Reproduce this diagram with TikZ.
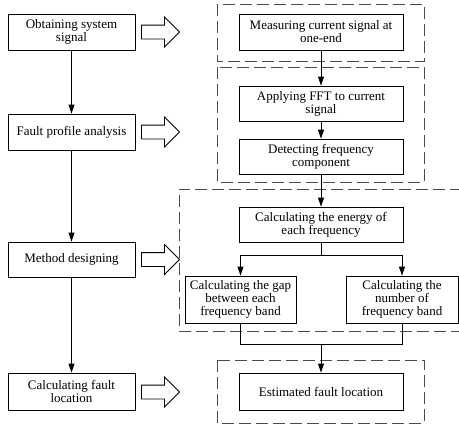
\documentclass[tikz,border=0pt]{standalone}
\usepackage{fontspec}
\setmainfont{Liberation Serif}
\usepackage{tikz}
\usetikzlibrary{arrows.meta,shapes.arrows}

\begin{document}
\begin{tikzpicture}[
			x=1pt, y=-1pt,
			font=\fontsize{13}{13}\selectfont,
			stepleft/.style={rectangle, draw, line width=0.8pt, minimum width=127pt, text width=116pt, align=flush center, inner sep=0pt},
			stepright/.style={rectangle, draw, line width=0.8pt, minimum width=164pt, text width=150pt, align=flush center, inner sep=0pt},
			stepsmall/.style={rectangle, draw, line width=0.8pt, minimum height=47pt, text width=105pt, align=flush center, inner sep=0pt},
			hollowarrow/.style={single arrow, draw, line width=0.8pt, minimum height=38pt, single arrow head extend=8pt, inner xsep=0pt, inner ysep=6.5pt},
			group/.style={draw=black!70, line width=0.8pt, dash pattern=on 12pt off 5pt},
			flow/.style={line width=0.8pt, -{Triangle[length=9pt,width=6pt]}},
			]
			\useasboundingbox (0,0) rectangle (459,424);
			%Nodes
				% left steps
				\node[stepleft, minimum height=36pt]		(obtain)		at (71.5,32)		{Obtaining system signal};
				\node[stepleft, minimum height=36pt]		(profile)		at (71.5,132)		{Fault profile analysis};
				\node[stepleft, minimum height=35pt]		(method)		at (71.5,259.5)		{Method designing};
				\node[stepleft, minimum height=37pt]		(locate)		at (71.5,391.5)		{Calculating fault location};
				% hollow arrows
				\node[hollowarrow]		(harrow1)		at (157,32)		{};
				\node[hollowarrow]		(harrow2)		at (157,132)		{};
				\node[hollowarrow]		(harrow3)		at (157,259.5)		{};
				\node[hollowarrow]		(harrow4)		at (157,392)		{};
				% right steps
				\node[stepright, minimum height=36pt]		(measure)		at (321,32)		{Measuring current signal at one-end};
				\node[stepright, minimum height=35pt]		(fft)		at (321,103.5)		{Applying FFT to current signal};
				\node[stepright, minimum height=35pt]		(detect)		at (321,156.5)		{Detecting frequency component};
				\node[stepright, minimum height=35pt]		(energy)		at (321,224.5)		{Calculating the energy of each frequency};
				\node[stepsmall, minimum width=111pt]		(gap)		at (240.5,299.5)		{Calculating the gap between each frequency band};
				\node[stepsmall, minimum width=112pt]		(number)		at (402,299.5)		{Calculating the number of frequency band};
				\node[stepright, minimum height=37pt]		(estimate)		at (321,391.5)		{Estimated fault location};
				%ghost nodes for branching
				\coordinate		(split)		at (321,255);
				\coordinate		(merge)		at (321,344);

			%Lines
				% dashed groups
				\draw[group] (217,4) rectangle (424,61);
				\draw[group] (217,67) rectangle (424,182);
				\draw[group] (462,189) -- (179,189) -- (179,331) -- (462,331);
				\draw[group] (217,360) rectangle (424,423);
				% left flow
				\draw[flow] (obtain) -- (profile);
				\draw[flow] (profile) -- (method);
				\draw[flow] (method) -- (locate);
				% right flow
				\draw[flow] (measure) -- (fft);
				\draw[flow] (fft) -- (detect);
				\draw[flow] (detect) -- (energy);
				\draw[line width=0.8pt] (energy) -- (split);
				\draw[flow] (split) -| (gap);
				\draw[flow] (split) -| (number);
				\draw[line width=0.8pt] (gap) |- (merge);
				\draw[line width=0.8pt] (number) |- (merge);
				\draw[flow] (merge) -- (estimate);
		\end{tikzpicture}
\end{document}
